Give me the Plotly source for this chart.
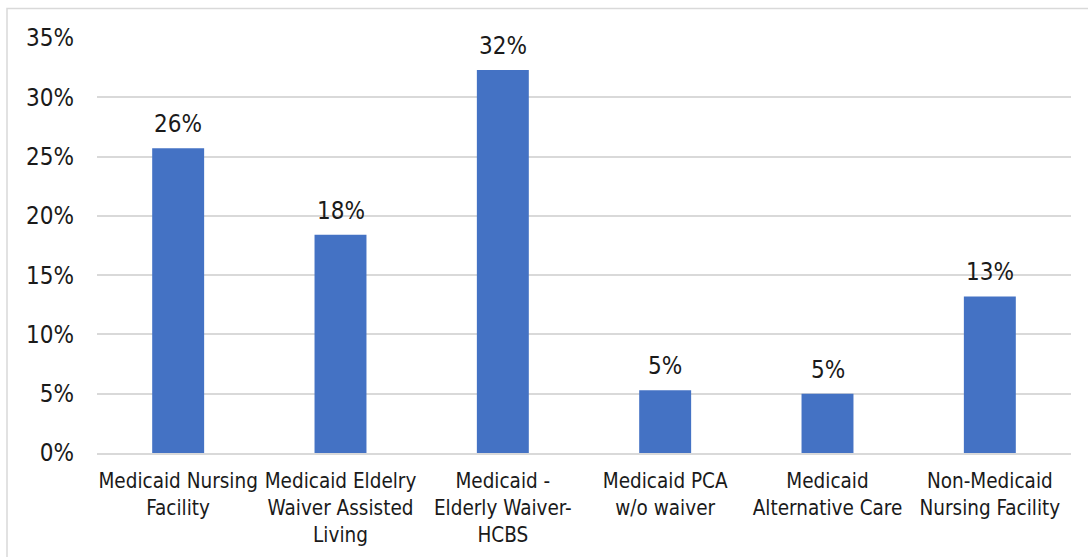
import plotly.graph_objects as go

categories = [
    "Medicaid Nursing<br>Facility",
    "Medicaid Eldelry<br>Waiver Assisted<br>Living",
    "Medicaid -<br>Elderly Waiver-<br>HCBS",
    "Medicaid PCA<br>w/o waiver",
    "Medicaid<br>Alternative Care",
    "Non-Medicaid<br>Nursing Facility",
]
shares = [0.257, 0.184, 0.323, 0.053, 0.050, 0.132]
y_ticks = [0, 0.05, 0.10, 0.15, 0.20, 0.25, 0.30, 0.35]

W, H = 1088, 557
L, R, T, B = 97, 17, 38, 104
FONT = "DejaVu Sans Condensed"
TEXT = "#1a1a1a"
CAT_SIZE = 20.5
NUM_SIZE = 24

fig = go.Figure(
    go.Bar(
        x=categories,
        y=shares,
        marker=dict(color="#4472C4", line=dict(width=0)),
        width=0.32,
        hoverinfo="skip",
    )
)

# value labels above each bar
for c, v in zip(categories, shares):
    fig.add_annotation(
        x=c, y=v, text=f"{v:.0%}", showarrow=False,
        yanchor="bottom", yshift=8,
        font=dict(family=FONT, size=NUM_SIZE, color=TEXT),
    )

# light frame around the chart area
pw, ph = W - L - R, H - T - B
fig.add_shape(
    type="rect", xref="paper", yref="paper",
    x0=(7 - L) / pw, x1=(W + 20 - L) / pw,
    y0=-(H + 20 - T - ph) / ph, y1=(H - 8.5 - B) / ph,
    line=dict(color="#d9d9d9", width=1.5), fillcolor="rgba(0,0,0,0)",
    layer="below",
)

fig.update_layout(
    width=W, height=H,
    margin=dict(l=L, r=R, t=T, b=B),
    paper_bgcolor="white", plot_bgcolor="white",
    showlegend=False,
    font=dict(family=FONT, size=CAT_SIZE, color=TEXT),
    xaxis=dict(
        showgrid=False, zeroline=False, automargin=False,
        showline=True, linecolor="#d9d9d9", linewidth=1.5,
        ticks="", tickfont=dict(family=FONT, size=CAT_SIZE, color=TEXT),
        ticklabelstandoff=9,
    ),
    yaxis=dict(
        range=[0, 0.35], tickvals=y_ticks, tickformat=".0%",
        showgrid=True, gridcolor="#d9d9d9", gridwidth=1.5,
        zeroline=False, showline=False, ticks="", automargin=False,
        tickfont=dict(family=FONT, size=NUM_SIZE, color=TEXT),
        ticklabelstandoff=22,
    ),
)

fig.write_html("out.html")
